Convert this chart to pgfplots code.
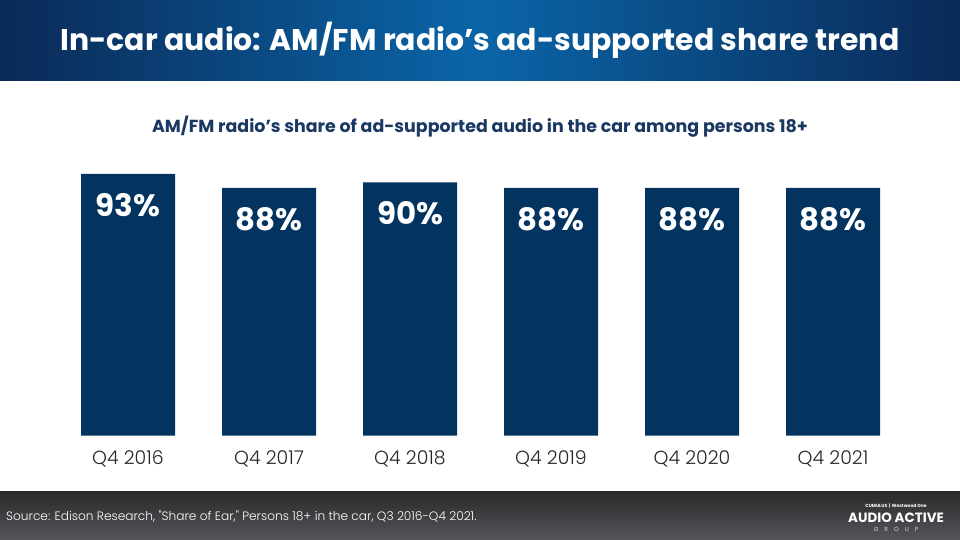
\documentclass[border=0pt]{standalone}
\usepackage{pgfplots}
\pgfplotsset{compat=1.18}
\usepackage{fontspec}
\setmainfont{Poppins}
\IfFontExistsTF{Poppins Light}{\newfontfamily\lightfont{Poppins Light}}{\newfontfamily\lightfont{Poppins}}
\definecolor{barblue}{HTML}{02345F}
\definecolor{subblue}{HTML}{1A3862}
\definecolor{navyd}{HTML}{0A2A57}
\definecolor{bannermid}{HTML}{0A65A8}
\definecolor{footA}{HTML}{2A2A2C}
\definecolor{footB}{HTML}{55565A}
\definecolor{ticktext}{HTML}{262626}
\begin{document}
\begin{tikzpicture}[x=1bp,y=1bp]
\path[use as bounding box] (0,0) rectangle (960,540);
\fill[white] (0,0) rectangle (960,540);
% banner
\shade[left color=navyd, right color=navyd, middle color=bannermid] (0,459) rectangle (960,540);
\node[white, font=\bfseries\fontsize{30}{34}\selectfont] at (480,500) {In-car audio: AM/FM radio’s ad-supported share trend};
% subtitle
\node[subblue, font=\bfseries\fontsize{17.5}{20}\selectfont] at (480,413) {AM/FM radio’s share of ad-supported audio in the car among persons 18+};
% footer
\shade[top color=footA, bottom color=footB] (0,0) rectangle (960,48);
\node[anchor=west, white, font=\lightfont\fontsize{12.2}{14}\selectfont, inner sep=0] at (6,23) {Source: Edison Research, "Share of Ear," Persons 18+ in the car, Q3 2016-Q4 2021.};
\node[white, font=\bfseries\fontsize{4.5}{5}\selectfont] at (896,34) {CUMULUS \,|\, Westwood One};
\node[white, font=\bfseries\fontsize{13.5}{16}\selectfont] at (896,22) {AUDIO ACTIVE};
\node[white!85!black, font=\fontsize{6}{7}\selectfont] at (896,11) {G\hspace{6bp}R\hspace{6bp}O\hspace{6bp}U\hspace{6bp}P};
\begin{axis}[
  at={(57.5bp,104.3bp)}, anchor=south west,
  scale only axis, width=846bp, height=281.5bp,
  xmin=-0.5, xmax=5.5, ymin=0, ymax=100,
  ybar, bar width=94bp,
  axis x line*=bottom, axis y line=none,
  x axis line style={draw=none},
  xtick=data, xticklabels={Q4 2016,Q4 2017,Q4 2018,Q4 2019,Q4 2020,Q4 2021},
  major tick length=0pt, ytick=\empty,
  /pgf/number format/assume math mode=true,
  xticklabel style={font=\lightfont\fontsize{19}{22}\selectfont, text=ticktext, anchor=center, yshift=-23bp},
  nodes near coords={\pgfmathprintnumber{\pgfplotspointmeta}\%},
  every node near coord/.append style={anchor=center, yshift=-31bp, white, font=\bfseries\fontsize{31}{36}\selectfont},
  clip=false,
]
\addplot[fill=barblue, draw=none] coordinates {(0,93) (1,88) (2,90) (3,88) (4,88) (5,88)};
\end{axis}
\end{tikzpicture}
\end{document}
